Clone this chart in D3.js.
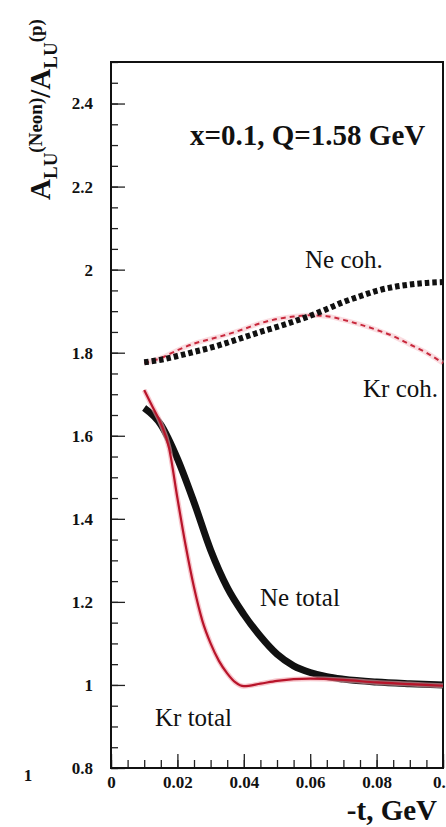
<!DOCTYPE html>
<html>
<head>
<meta charset="utf-8">
<script src="https://cdn.jsdelivr.net/npm/d3@7"></script>
<style>
  body { margin: 0; background: #fff; }
  svg { display: block; }
  svg text { font-family: "Liberation Serif", "DejaVu Serif", "Noto Serif", serif !important; fill: #111; }
</style>
</head>
<body>
<div id="canvas"></div>
<script>
// -t values and curves
const tCoh = [0.01, 0.015, 0.02, 0.025, 0.03, 0.035, 0.04, 0.045, 0.05, 0.055, 0.06, 0.065, 0.07, 0.075, 0.08, 0.085, 0.09, 0.095, 0.1];
const neCoh = [1.777, 1.783, 1.792, 1.802, 1.812, 1.824, 1.837, 1.85, 1.862, 1.875, 1.889, 1.905, 1.922, 1.936, 1.949, 1.958, 1.964, 1.968, 1.97];
const krCoh = [1.775, 1.787, 1.806, 1.822, 1.833, 1.844, 1.857, 1.871, 1.881, 1.887, 1.89, 1.888, 1.879, 1.868, 1.855, 1.84, 1.82, 1.8, 1.775];

const tNeTotal = [0.01, 0.015, 0.02, 0.025, 0.03, 0.035, 0.04, 0.045, 0.05, 0.055, 0.06, 0.065, 0.07, 0.08, 0.09, 0.1];
const neTotal = [1.667, 1.627, 1.545, 1.44, 1.325, 1.235, 1.17, 1.117, 1.074, 1.046, 1.03, 1.02, 1.014, 1.007, 1.003, 1.0];

const tKrTotal = [0.01, 0.0125, 0.015, 0.0175, 0.02, 0.0225, 0.025, 0.0275, 0.03, 0.0325, 0.035, 0.0375, 0.04, 0.045, 0.05, 0.06, 0.07, 0.08, 0.09, 0.1];
const krTotal = [1.71, 1.67, 1.63, 1.57, 1.45, 1.335, 1.235, 1.155, 1.1, 1.058, 1.028, 1.006, 0.997, 1.003, 1.01, 1.015, 1.012, 1.006, 1.002, 0.998];

const xTicks = [0, 0.02, 0.04, 0.06, 0.08, 0.1];
const xTickLabels = ['0', '0.02', '0.04', '0.06', '0.08', '0.1'];
const yTicks = [0.8, 1, 1.2, 1.4, 1.6, 1.8, 2, 2.2, 2.4];
const yTickLabels = ['0.8', '1', '1.2', '1.4', '1.6', '1.8', '2', '2.2', '2.4'];

const width = 446, height = 827;
const plotLeft = 111, plotRight = 443, plotTop = 62, plotBottom = 768;

const svg = d3.select('#canvas').append('svg')
    .attr('width', width)
    .attr('height', height);

const x = d3.scaleLinear().domain([0, 0.1]).range([plotLeft, plotRight]);
const y = d3.scaleLinear().domain([0.8, 2.5]).range([plotBottom, plotTop]);

// minor ticks
svg.append('g')
    .attr('transform', `translate(0,${plotBottom})`)
    .call(d3.axisBottom(x).tickValues(x.ticks(20)).tickSize(-8).tickFormat(''))
    .call(g => g.select('.domain').remove());
svg.append('g')
    .attr('transform', `translate(${plotLeft},0)`)
    .call(d3.axisLeft(y).tickValues(y.ticks(34)).tickSize(-7).tickFormat(''))
    .call(g => g.select('.domain').remove());

// major ticks with labels
const xAxis = svg.append('g')
    .attr('transform', `translate(0,${plotBottom})`)
    .call(d3.axisBottom(x).tickValues(xTicks).tickSize(-14).tickPadding(8)
        .tickFormat((d, i) => xTickLabels[i]));
xAxis.select('.domain').remove();

const yAxis = svg.append('g')
    .attr('transform', `translate(${plotLeft},0)`)
    .call(d3.axisLeft(y).tickValues(yTicks).tickSize(-14).tickPadding(18)
        .tickFormat((d, i) => yTickLabels[i]));
yAxis.select('.domain').remove();

svg.selectAll('g').attr('font-family', null);
svg.selectAll('.tick line').attr('stroke', '#222').attr('stroke-width', 1.3);
svg.selectAll('.tick text')
    .attr('font-weight', 'bold')
    .attr('font-size', 17)
    .attr('fill', '#111');

// frame
svg.append('rect')
    .attr('x', plotLeft).attr('y', plotTop)
    .attr('width', plotRight - plotLeft).attr('height', plotBottom - plotTop)
    .attr('fill', 'none')
    .attr('stroke', '#111')
    .attr('stroke-width', 2);

const line = d3.line()
    .x(d => x(d[0]))
    .y(d => y(d[1]))
    .curve(d3.curveMonotoneX);

const pairs = (ts, vs) => ts.map((t, i) => [t, vs[i]]);

// Kr coh. (red dashed)
svg.append('path')
    .datum(pairs(tCoh, krCoh))
    .attr('d', line)
    .attr('fill', 'none')
    .attr('stroke', '#f4b4bc')
    .attr('stroke-opacity', 0.45)
    .attr('stroke-width', 5);
svg.append('path')
    .datum(pairs(tCoh, krCoh))
    .attr('d', line)
    .attr('fill', 'none')
    .attr('stroke', '#c8283c')
    .attr('stroke-width', 2)
    .attr('stroke-dasharray', '5,4');

// Ne coh. (black thick dots)
svg.append('path')
    .datum(pairs(tCoh, neCoh))
    .attr('d', line)
    .attr('fill', 'none')
    .attr('stroke', '#111')
    .attr('stroke-width', 6)
    .attr('stroke-dasharray', '4.5,3');

// Ne total (black thick)
svg.append('path')
    .datum(pairs(tNeTotal, neTotal))
    .attr('d', line)
    .attr('fill', 'none')
    .attr('stroke', '#111')
    .attr('stroke-width', 7);

// Kr total (red)
svg.append('path')
    .datum(pairs(tKrTotal, krTotal))
    .attr('d', line)
    .attr('fill', 'none')
    .attr('stroke', '#f2a0aa')
    .attr('stroke-opacity', 0.6)
    .attr('stroke-width', 5);
svg.append('path')
    .datum(pairs(tKrTotal, krTotal))
    .attr('d', line)
    .attr('fill', 'none')
    .attr('stroke', '#b8142a')
    .attr('stroke-width', 2.2);

// labels
svg.append('text')
    .attr('x', 190).attr('y', 145)
    .attr('font-size', 29).attr('font-weight', 'bold')
    .text('x=0.1, Q=1.58 GeV');

const curveLabels = [
    { text: 'Ne coh.', x: 305, y: 268 },
    { text: 'Kr coh.', x: 363, y: 397 },
    { text: 'Ne total', x: 260, y: 606 },
    { text: 'Kr total', x: 155, y: 726 }
];
svg.selectAll('.curve-label')
    .data(curveLabels)
    .enter()
    .append('text')
    .classed('curve-label', true)
    .attr('x', d => d.x)
    .attr('y', d => d.y)
    .attr('font-size', 25)
    .text(d => d.text);

svg.append('text')
    .attr('x', 437).attr('y', 820)
    .attr('text-anchor', 'end')
    .attr('font-size', 29).attr('font-weight', 'bold')
    .text('-t, GeV');

svg.append('text')
    .attr('x', 28).attr('y', 781)
    .attr('text-anchor', 'middle')
    .attr('font-size', 17).attr('font-weight', 'bold')
    .text('1');

// y axis title
const yTitle = svg.append('text')
    .attr('transform', 'translate(50,200) rotate(-90)')
    .attr('font-weight', 'bold')
    .attr('font-size', 29);
yTitle.append('tspan').text('A');
yTitle.append('tspan').attr('font-size', 19).attr('dy', 7).text('LU');
yTitle.append('tspan').attr('font-size', 19).attr('dy', -15).text('(Neon)');
yTitle.append('tspan').attr('dy', 8).text('/A');
yTitle.append('tspan').attr('font-size', 19).attr('dy', 7).text('LU');
yTitle.append('tspan').attr('font-size', 19).attr('dy', -15).text('(p)');
</script>
</body>
</html>
